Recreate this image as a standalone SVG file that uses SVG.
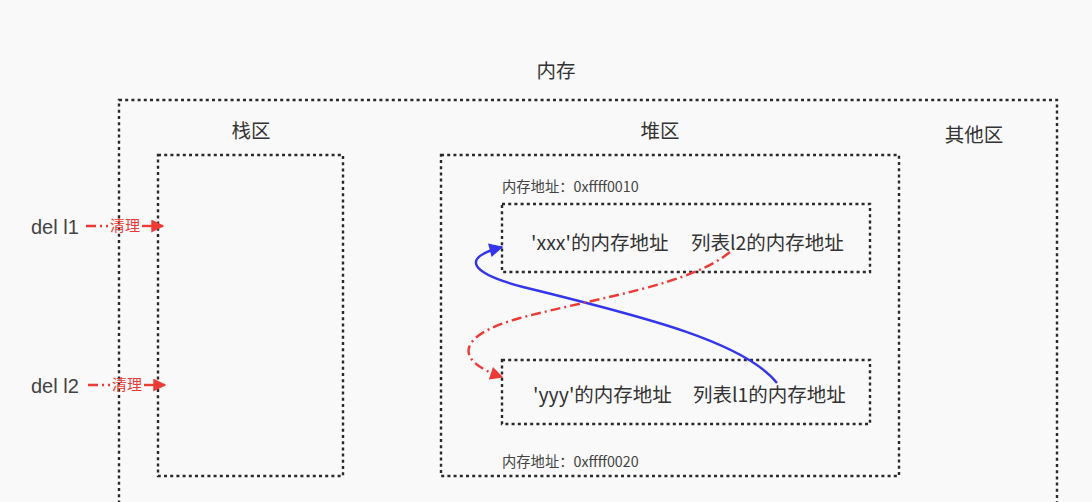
<svg xmlns="http://www.w3.org/2000/svg" width="1092" height="502" viewBox="0 0 1092 502">
<style>
.box{fill:none;stroke:#2a2a2a;stroke-width:2.4;stroke-dasharray:3 3.2}
.t{font-family:"Noto Sans CJK SC","Liberation Sans",sans-serif;fill:#333}
.lbl{font-size:19.5px}
.cell{font-size:19.5px}
.addr{font-size:14.3px;fill:#444}
.del{font-family:"Liberation Sans","Noto Sans CJK SC",sans-serif;font-size:20px;fill:#444}
.red{fill:none;stroke:#ec3a36;stroke-width:2.4;stroke-dasharray:10 4 2 4}
.clean{font-family:"Noto Sans CJK SC",sans-serif;font-size:15px;fill:#ec3a36}
</style>
<defs>
<marker id="ar2" viewBox="0 0 10 10" refX="9" refY="5" markerWidth="17" markerHeight="13" markerUnits="userSpaceOnUse" orient="auto">
<path d="M0,0 L10,5 L0,10 z" fill="#ec3a36"/>
</marker>
<marker id="ab" viewBox="0 0 10 10" refX="9" refY="5" markerWidth="17" markerHeight="14" markerUnits="userSpaceOnUse" orient="auto">
<path d="M0,0 L10,5 L0,10 z" fill="#3535ee"/>
</marker>
</defs>
<rect width="1092" height="502" fill="#f9f9f9"/>
<g id="memory">
<text class="t lbl" x="556" y="78" text-anchor="middle">内存</text>
<rect class="box" x="119" y="100" width="938" height="420"/>
</g>
<g id="stack">
<text class="t lbl" x="251" y="138" text-anchor="middle">栈区</text>
<rect class="box" x="158" y="155" width="185" height="321"/>
</g>
<g id="heap">
<text class="t lbl" x="660" y="138" text-anchor="middle">堆区</text>
<rect class="box" x="441" y="155" width="458" height="321"/>
</g>
<g id="other">
<text class="t lbl" x="974" y="142" text-anchor="middle">其他区</text>
</g>
<g id="obj1">
<text class="t addr" x="502" y="192">内存地址：0xffff0010</text>
<rect class="box" x="502" y="204" width="368" height="68"/>
<text class="t cell" x="531" y="250">'xxx'的内存地址</text>
<text class="t cell" x="691" y="250">列表l2的内存地址</text>
</g>
<g id="obj2">
<rect class="box" x="502" y="360" width="368" height="64"/>
<text class="t cell" x="533" y="402">'yyy'的内存地址</text>
<text class="t cell" x="693" y="402">列表l1的内存地址</text>
<text class="t addr" x="502" y="467">内存地址：0xffff0020</text>
</g>
<g id="del1">
<text class="del" x="31" y="234">del l1</text>
</g>
<g id="del2">
<text class="del" x="31" y="393">del l2</text>
</g>
<g id="connectors">
<path class="red" d="M86,226 H108" />
<text class="clean" x="110" y="231">清理</text>
<path d="M142,226 H163" fill="none" stroke="#ec3a36" stroke-width="2.4" marker-end="url(#ar2)"/>
<path class="red" d="M88,385 H110" />
<text class="clean" x="112" y="390">清理</text>
<path d="M144,385 H165" fill="none" stroke="#ec3a36" stroke-width="2.4" marker-end="url(#ar2)"/>
<path d="M777,383 C745,343 650,318 523,287 C470,273 460,258 502,247" fill="none" stroke="#3535ee" stroke-width="2.4" marker-end="url(#ab)"/>
<path class="red" d="M730,252 C690,285 600,297 520,318 C458,335 452,360 502,377" marker-end="url(#ar2)"/>
</g>
</svg>
